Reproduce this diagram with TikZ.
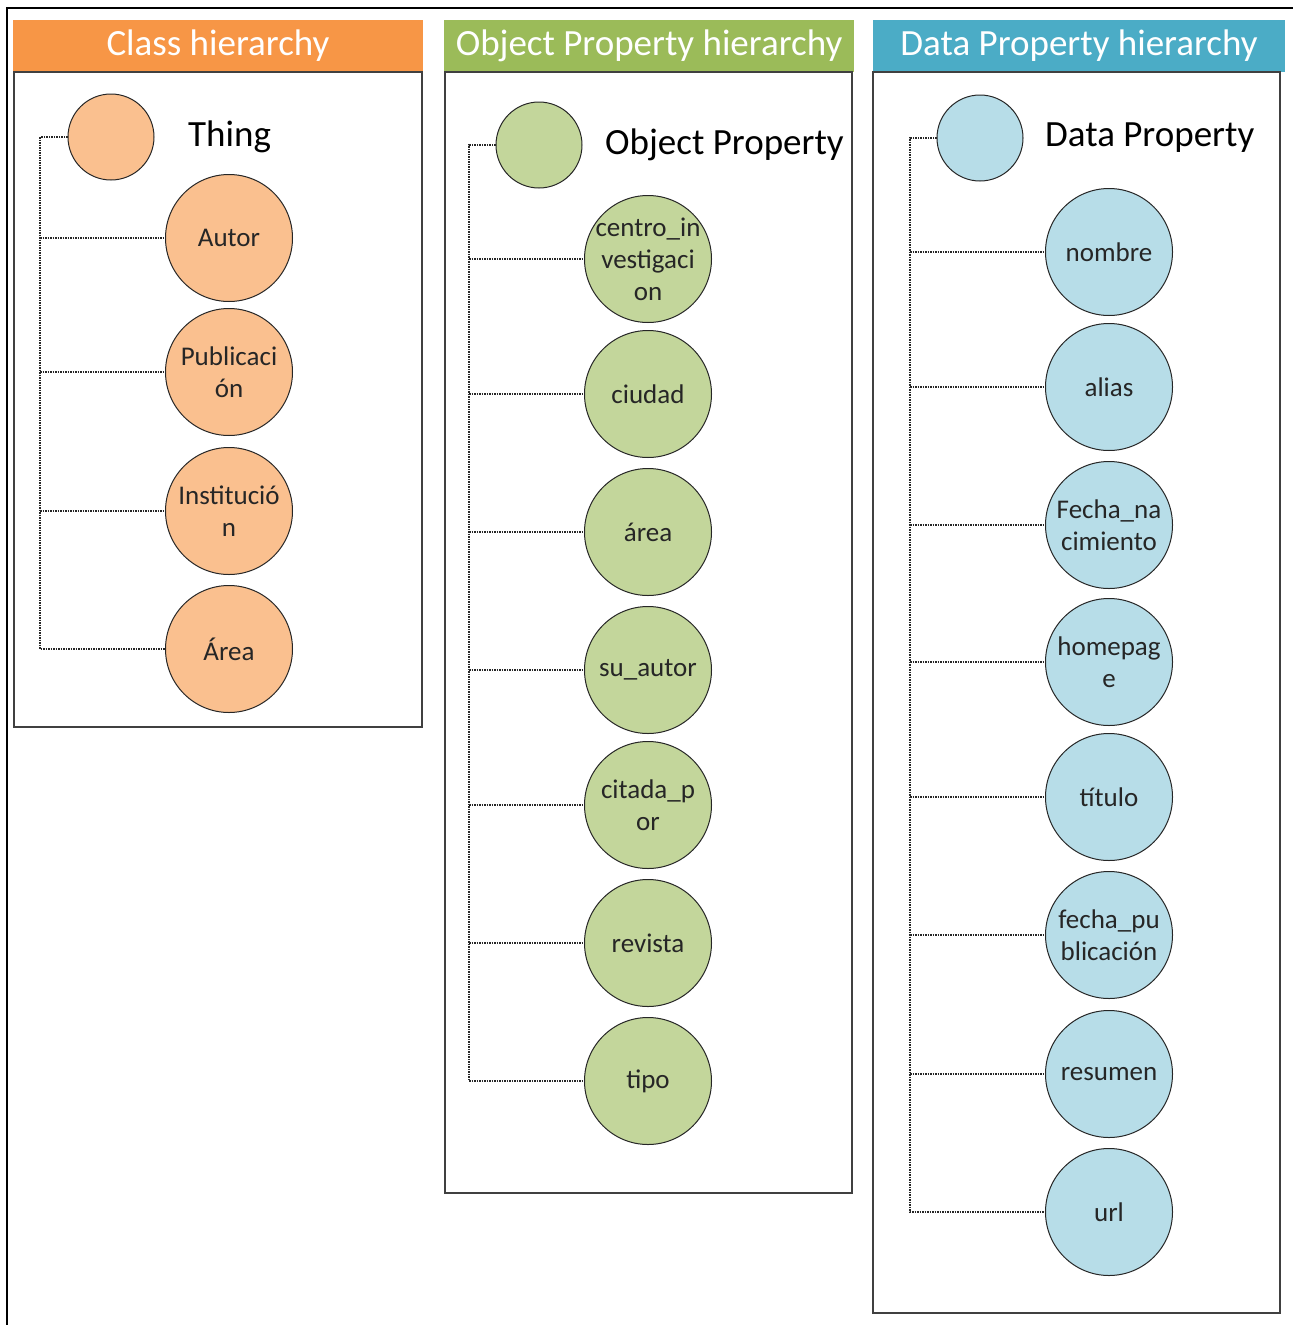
\documentclass[tikz,border=0pt]{standalone}
\usepackage{fontspec}
\setmainfont{Carlito}
\definecolor{orghead}{HTML}{F79646}
\definecolor{grnhead}{HTML}{9BBB59}
\definecolor{bluhead}{HTML}{4BACC6}
\definecolor{orgfill}{HTML}{FAC08F}
\definecolor{grnfill}{HTML}{C3D69B}
\definecolor{blufill}{HTML}{B7DDE8}
\definecolor{framegray}{HTML}{404040}
\begin{document}
\begin{tikzpicture}[x=1pt,y=-1pt,
  header/.style={inner sep=0pt, text=white, font=\fontsize{37}{40}\selectfont},
  panel/.style={draw=framegray, line width=1.4pt, fill=white},
  root/.style={circle, draw=black!85, line width=1pt, minimum size=86pt, inner sep=0pt},
  % the circle keeps a fixed size; its text sits in a centred label
  childtext/.style={align=center, inner sep=0pt, text=black!85, font=\fontsize{27}{32}\selectfont},
  child/.style={circle, draw=black!85, line width=1pt, minimum size=127pt, inner sep=0pt,
    label={[childtext]center:#1}},
  rootlabel/.style={anchor=west, inner sep=0pt, font=\fontsize{37}{42}\selectfont},
  conn/.style={densely dotted, line width=1.5pt, black!85}]
\useasboundingbox (0,0) rectangle (1293,1325);
% outer frame (top and left edges)
\draw[line width=2pt] (7,1325) -- (7,8) -- (1293,8);

% ---------- Class hierarchy ----------
\fill[orghead] (13,20) rectangle (423,72);
\node[header] (hc) at (218,46) {Class hierarchy};
\draw[panel] (14,72) rectangle (422,727);
\node[root, fill=orgfill] (thing) at (111,137) {};
\node[rootlabel] (thingl) at (188,137) {Thing};
\node[child={Autor}, fill=orgfill] (autor) at (229,238) {};
\node[child={Publicaci\\ón}, fill=orgfill] (publ) at (229,372) {};
\node[child={Institució\\n}, fill=orgfill] (inst) at (229,511) {};
\node[child={Área}, fill=orgfill] (area) at (229,649) {};
\coordinate (s1) at (40,137);
\draw[conn] (thing.west) -- (s1) |- (area.west);
\foreach \c in {autor,publ,inst} \draw[conn] (s1 |- \c.west) -- (\c.west);

% ---------- Object Property hierarchy ----------
\fill[grnhead] (444,20) rectangle (854,72);
\node[header] (ho) at (649,46) {Object Property hierarchy};
\draw[panel] (445,72) rectangle (852,1193);
\node[root, fill=grnfill] (objp) at (539,145) {};
\node[rootlabel] (objpl) at (605,145) {Object Property};
\node[child={centro\_in\\vestigaci\\on}, fill=grnfill] (centro) at (648,259) {};
\node[child={ciudad}, fill=grnfill] (ciudad) at (648,394) {};
\node[child={área}, fill=grnfill] (oarea) at (648,532) {};
\node[child={su\_autor}, fill=grnfill] (suautor) at (648,670) {};
\node[child={citada\_p\\or}, fill=grnfill] (citada) at (648,805) {};
\node[child={revista}, fill=grnfill] (revista) at (648,943) {};
\node[child={tipo}, fill=grnfill] (tipo) at (648,1081) {};
\coordinate (s2) at (469,145);
\draw[conn] (objp.west) -- (s2) |- (tipo.west);
\foreach \c in {centro,ciudad,oarea,suautor,citada,revista} \draw[conn] (s2 |- \c.west) -- (\c.west);

% ---------- Data Property hierarchy ----------
\fill[bluhead] (873,20) rectangle (1285,72);
\node[header] (hd) at (1079,46) {Data Property hierarchy};
\draw[panel] (873,72) rectangle (1280,1313);
\node[root, fill=blufill] (datp) at (980,138) {};
\node[rootlabel] (datpl) at (1045,138) {Data Property};
\node[child={nombre}, fill=blufill] (nombre) at (1109,252) {};
\node[child={alias}, fill=blufill] (alias) at (1109,387) {};
\node[child={Fecha\_na\\cimiento}, fill=blufill] (fnac) at (1109,525) {};
\node[child={homepag\\e}, fill=blufill] (home) at (1109,662) {};
\node[child={título}, fill=blufill] (titulo) at (1109,797) {};
\node[child={fecha\_pu\\blicación}, fill=blufill] (fpub) at (1109,935) {};
\node[child={resumen}, fill=blufill] (resumen) at (1109,1074) {};
\node[child={url}, fill=blufill] (url) at (1109,1212) {};
\coordinate (s3) at (910,138);
\draw[conn] (datp.west) -- (s3) |- (url.west);
\foreach \c in {nombre,alias,fnac,home,titulo,fpub,resumen} \draw[conn] (s3 |- \c.west) -- (\c.west);
\end{tikzpicture}
\end{document}
